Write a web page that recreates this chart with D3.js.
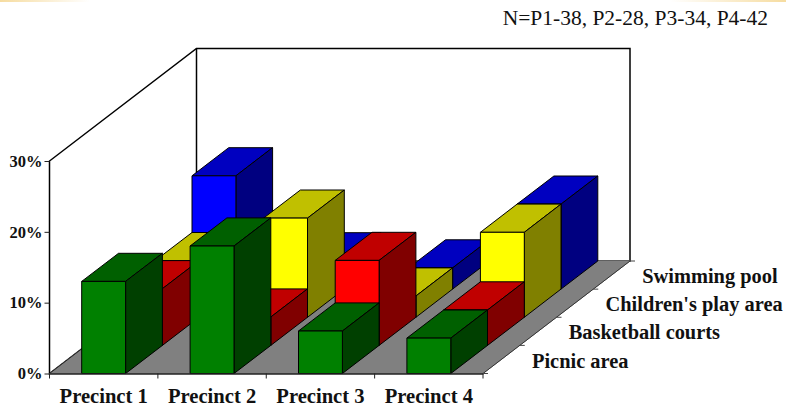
<!DOCTYPE html>
<html><head><meta charset="utf-8">
<script src="https://cdn.jsdelivr.net/npm/d3@7/dist/d3.min.js"></script>
<style>html,body{margin:0;padding:0;background:#fff}svg{display:block}</style></head>
<body><svg id="c" width="786" height="410"></svg>
<script>
const categories = ["Precinct 1","Precinct 2","Precinct 3","Precinct 4"];
const seriesNames = ["Picnic area","Basketball courts","Children's play area","Swimming pool"];
const picnic = [13,18,6,5];
const basketball = [8,4,12,5];
const children = [8,14,3,12];
const swimming = [16,4,3,12];
const yTicks = [0,10,20,30];
const note = "N=P1-38, P2-28, P3-34, P4-42";
const faces = [
 {front:"#008000",top:"#006000",side:"#004000"},
 {front:"#ff0000",top:"#c00000",side:"#800000"},
 {front:"#ffff00",top:"#c0c000",side:"#808000"},
 {front:"#0000ff",top:"#0000c0",side:"#000080"}];
const series = [picnic,basketball,children,swimming];

const svg = d3.select("#c");
const defs = svg.append("defs");
const gl = defs.append("linearGradient").attr("id","glowL");
gl.append("stop").attr("offset",0).attr("stop-color","#f6dca0");
gl.append("stop").attr("offset",1).attr("stop-color","#ffffff");
const gr = defs.append("linearGradient").attr("id","glowR");
gr.append("stop").attr("offset",0).attr("stop-color","#ffffff");
gr.append("stop").attr("offset",1).attr("stop-color","#f6dca0");

const x = d3.scaleBand().domain(categories).range([49.5,483]);
const y = d3.scaleLinear().domain([0,30]).range([373.5,161]);
const depth = d3.scaleBand().domain(seriesNames).range([0,1]);
const DX = 147, DY = -112.5;
const barFrac = 0.405;
const px = (xv,d)=>xv + d*DX;
const py = (yv,d)=>yv + d*DY;
const P = (xv,yv,d)=>[px(xv,d),py(yv,d)];
const poly = pts=>pts.map(p=>p.map(v=>v.toFixed(1)).join(",")).join(" ");

svg.append("rect").attr("x",0).attr("y",0).attr("width",90).attr("height",2).attr("fill","url(#glowL)");
svg.append("rect").attr("x",670).attr("y",0).attr("width",116).attr("height",2).attr("fill","url(#glowR)");

const y0 = y(0), y30 = y(30), xL = x.range()[0], xR = x.range()[1];
const wallW = 1.5;
svg.append("polygon").attr("points",poly([P(xL,y0,0),P(xL,y30,0),P(xL,y30,1),P(xR,y30,1),P(xR,y0,1),P(xL,y0,1)]))
  .attr("fill","#fff").attr("stroke","#000").attr("stroke-width",wallW);
svg.append("line").attr("x1",px(xL,1)).attr("x2",px(xL,1)).attr("y1",py(y30,1)).attr("y2",py(y0,1)).attr("stroke","#000").attr("stroke-width",wallW);
svg.append("polygon").attr("points",poly([P(xL,y0,0),P(xR,y0,0),P(xR,y0,1),P(xL,y0,1)])).attr("fill","#808080").attr("stroke","#808080").attr("stroke-width",1);
svg.append("line").attr("x1",px(xL,0)).attr("y1",y0).attr("x2",px(xL,1)).attr("y2",py(y0,1)).attr("stroke","#222");

d3.range(3,-1,-1).forEach(si=>{
  const d0 = depth(seriesNames[si]), d1 = d0 + depth.bandwidth();
  categories.forEach((c,ci)=>{
    const w = x.bandwidth()*barFrac;
    const xa = x(c)+(x.bandwidth()-w)/2, xb = xa+w;
    const yt = y(series[si][ci]);
    const gb = svg.append("g").attr("stroke","#000").attr("stroke-width",1).attr("stroke-linejoin","round");
    gb.append("polygon").attr("points",poly([P(xa,yt,d0),P(xb,yt,d0),P(xb,yt,d1),P(xa,yt,d1)])).attr("fill",faces[si].top);
    gb.append("polygon").attr("points",poly([P(xb,y0,d0),P(xb,yt,d0),P(xb,yt,d1),P(xb,y0,d1)])).attr("fill",faces[si].side);
    gb.append("polygon").attr("points",poly([P(xa,y0,d0),P(xb,y0,d0),P(xb,yt,d0),P(xa,yt,d0)])).attr("fill",faces[si].front);
  });
});

const font = "'Liberation Serif','Times New Roman',serif";
const ay = svg.append("g").attr("transform",`translate(${xL},0)`).call(d3.axisLeft(y).tickValues(yTicks).tickFormat(d=>d+"%").tickSize(5).tickPadding(2));
ay.select(".domain").remove();
ay.selectAll("line").attr("stroke","#222");
ay.selectAll("text").attr("font-family",font).attr("font-weight","bold").attr("font-size",16.5).attr("fill","#111");

const ax = svg.append("g").attr("transform",`translate(0,${y0})`).call(d3.axisBottom(x).tickSize(0).tickPadding(14.5));
ax.select(".domain").attr("stroke","#222").attr("stroke-width",1.4);
ax.selectAll("text").attr("font-family",font).attr("font-weight","bold").attr("font-size",20.6).attr("fill","#111");
const edges = categories.map(c=>x(c)).concat([xR]);
svg.append("g").selectAll("line").data(edges).join("line")
  .attr("x1",d=>d).attr("x2",d=>d).attr("y1",y0).attr("y2",y0+5).attr("stroke","#222");

const depthEdges = seriesNames.map(s=>depth(s)).concat([1]);
svg.append("line").attr("x1",px(xR,0)).attr("y1",y0).attr("x2",px(xR,1)).attr("y2",py(y0,1)).attr("stroke","#333");
svg.append("g").selectAll("line").data(depthEdges).join("line")
  .attr("x1",d=>px(xR,d)).attr("x2",d=>px(xR,d)+5).attr("y1",d=>py(y0,d)).attr("y2",d=>py(y0,d)).attr("stroke","#444");
svg.append("g").selectAll("text").data(seriesNames).join("text")
  .attr("x",s=>px(xR+49,depth(s)))
  .attr("y",s=>py(y0-6,depth(s)))
  .attr("font-family",font).attr("font-weight","bold").attr("font-size",20.4).attr("fill","#111").text(s=>s);

svg.append("text").attr("x",768).attr("y",25).attr("text-anchor","end").attr("font-family",font).attr("font-size",21.5).attr("fill","#111").text(note);
</script></body></html>
